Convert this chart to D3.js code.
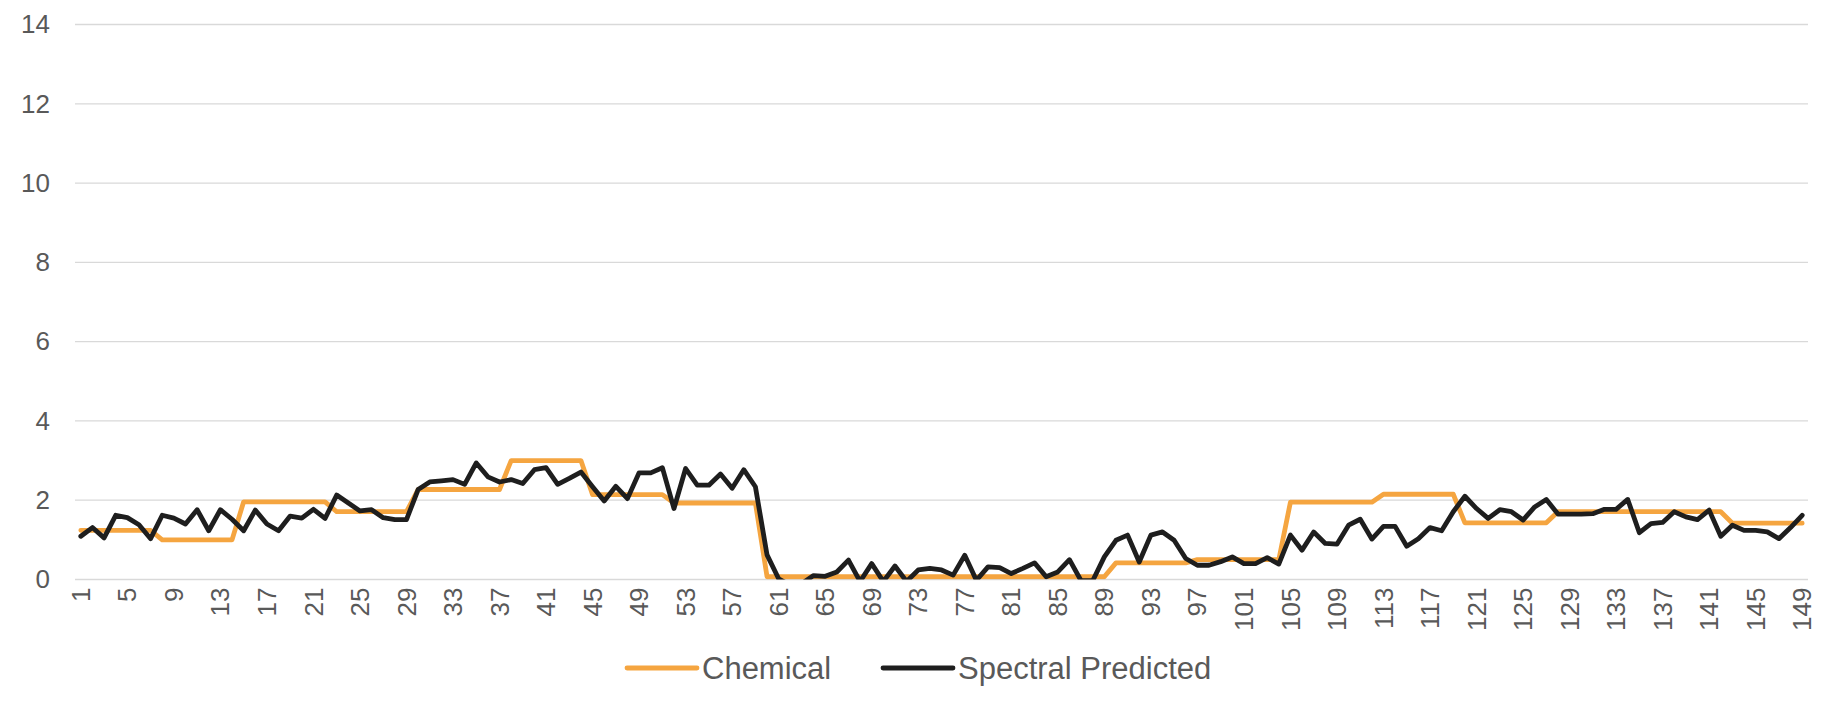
<!DOCTYPE html>
<html>
<head>
<meta charset="utf-8">
<script src="https://cdn.jsdelivr.net/npm/d3@7/dist/d3.min.js"></script>
<style>
  html, body { margin: 0; padding: 0; background: #ffffff; }
  svg { display: block; }
  text { font-family: "Liberation Sans", Arial, sans-serif; fill: #595959; }
</style>
</head>
<body>
<svg id="chart" width="1822" height="718"></svg>
<script>
// ---- data ----
const categories = d3.range(1, 150);
const chemical = [
  1.24,1.24,1.24,1.24,1.24,1.24,1.24,
  1.0,1.0,1.0,1.0,1.0,1.0,1.0,
  1.96,1.96,1.96,1.96,1.96,1.96,1.96,1.96,
  1.71,1.71,1.71,1.71,1.71,1.71,1.71,
  2.27,2.27,2.27,2.27,2.27,2.27,2.27,2.27,
  3.0,3.0,3.0,3.0,3.0,3.0,3.0,
  2.14,2.14,2.14,2.14,2.14,2.14,2.14,
  1.93,1.93,1.93,1.93,1.93,1.93,1.93,1.93,
  0.07,0.07,0.07,0.07,0.07,0.07,0.07,0.07,0.07,0.07,
  0.07,0.07,0.07,0.07,0.07,0.07,0.07,0.07,0.07,0.07,
  0.07,0.07,0.07,0.07,0.07,0.07,0.07,0.07,0.07,0.07,
  0.42,0.42,0.42,0.42,0.42,0.42,0.42,
  0.5,0.5,0.5,0.5,0.5,0.5,0.5,0.5,
  1.95,1.95,1.95,1.95,1.95,1.95,1.95,1.95,
  2.15,2.15,2.15,2.15,2.15,2.15,2.15,
  1.43,1.43,1.43,1.43,1.43,1.43,1.43,1.43,
  1.71,1.71,1.71,1.71,1.71,1.71,1.71,1.71,1.71,1.71,1.71,1.71,1.71,1.71,1.71,
  1.42,1.42,1.42,1.42,1.42,1.42,1.42
];
const spectral = [
  1.09,1.31,1.05,1.62,1.56,1.38,1.03,1.62,1.55,1.40,
  1.76,1.23,1.76,1.52,1.23,1.75,1.40,1.23,1.60,1.55,
  1.77,1.54,2.13,1.93,1.73,1.76,1.56,1.51,1.51,2.27,
  2.46,2.49,2.52,2.40,2.94,2.59,2.46,2.52,2.42,2.77,
  2.82,2.40,2.55,2.71,2.34,1.98,2.35,2.04,2.69,2.69,
  2.82,1.79,2.80,2.38,2.38,2.66,2.30,2.77,2.34,0.62,
  0.02,-0.15,-0.10,0.10,0.08,0.19,0.49,-0.05,0.40,-0.05,
  0.34,-0.05,0.24,0.28,0.24,0.11,0.61,-0.02,0.32,0.30,
  0.15,0.28,0.42,0.07,0.19,0.50,-0.03,-0.03,0.57,0.99,
  1.12,0.44,1.12,1.20,0.99,0.53,0.36,0.36,0.45,0.57,
  0.40,0.40,0.55,0.39,1.12,0.74,1.20,0.91,0.89,1.37,
  1.52,1.02,1.34,1.34,0.84,1.03,1.31,1.23,1.71,2.10,
  1.79,1.54,1.76,1.71,1.50,1.83,2.02,1.65,1.65,1.65,
  1.66,1.77,1.77,2.02,1.18,1.41,1.44,1.71,1.58,1.51,
  1.75,1.09,1.37,1.24,1.24,1.20,1.03,1.31,1.62
];
const yTicks = [0, 2, 4, 6, 8, 10, 12, 14];
const xTickLabels = categories.filter(c => (c - 1) % 4 === 0);
const seriesNames = ["Chemical", "Spectral Predicted"];
const seriesColors = ["#F5A540", "#1E1E1E"];

// ---- layout ----
const svg = d3.select("#chart");
const plotLeft = 75, plotRight = 1808, plotTop = 24.5, plotBottom = 579.5;

const x = d3.scaleBand().domain(categories).range([plotLeft, plotRight]).padding(0);
const y = d3.scaleLinear().domain([0, 14]).range([plotBottom, plotTop]);
const cx = c => x(c) + x.bandwidth() / 2;

// gridlines
svg.append("g")
  .selectAll("line")
  .data(yTicks)
  .join("line")
  .attr("x1", plotLeft).attr("x2", plotRight)
  .attr("y1", d => y(d)).attr("y2", d => y(d))
  .attr("stroke", "#d9d9d9").attr("stroke-width", 1.3);

// y axis labels
const yAxis = d3.axisLeft(y).tickValues(yTicks).tickSize(0).tickPadding(0);
const gy = svg.append("g").attr("transform", `translate(${plotLeft - 25},0)`).call(yAxis);
gy.select(".domain").remove();
gy.selectAll("text").style("font-size", "26px").attr("fill", "#595959")
  .attr("font-family", "Liberation Sans, Arial, sans-serif");

// x axis labels
const xAxis = d3.axisBottom(x).tickValues(xTickLabels).tickSize(0).tickPadding(0);
const gx = svg.append("g").attr("transform", `translate(0,${plotBottom})`).call(xAxis);
gx.select(".domain").remove();
gx.selectAll("text")
  .style("font-size", "26px").attr("fill", "#595959")
  .attr("font-family", "Liberation Sans, Arial, sans-serif")
  .attr("text-anchor", "end")
  .attr("dy", "0.35em")
  .attr("transform", "translate(0,8) rotate(-90)")
  .attr("x", 0).attr("y", 0);

// clip
svg.append("clipPath").attr("id", "plotclip")
  .append("rect").attr("x", plotLeft - 10).attr("y", plotTop - 10)
  .attr("width", plotRight - plotLeft + 20).attr("height", plotBottom - plotTop + 10);

const line = d3.line().x(d => cx(d.c)).y(d => y(d.v));
const seriesData = [chemical, spectral].map(arr => categories.map((c, i) => ({ c, v: arr[i] })));

svg.append("g").attr("clip-path", "url(#plotclip)")
  .selectAll("path")
  .data(seriesData)
  .join("path")
  .attr("d", line)
  .attr("fill", "none")
  .attr("stroke", (d, i) => seriesColors[i])
  .attr("stroke-width", 4.8)
  .attr("stroke-linejoin", "round")
  .attr("stroke-linecap", "round");

// legend
const legendY = 668;
const legendItems = [
  { name: seriesNames[0], color: seriesColors[0], x0: 627 },
  { name: seriesNames[1], color: seriesColors[1], x0: 883 }
];
const lg = svg.append("g");
legendItems.forEach(it => {
  lg.append("line").attr("x1", it.x0).attr("x2", it.x0 + 70)
    .attr("y1", legendY).attr("y2", legendY)
    .attr("stroke", it.color).attr("stroke-width", 4.8).attr("stroke-linecap", "round");
  lg.append("text").attr("x", it.x0 + 75).attr("y", legendY).attr("dy", "0.35em")
    .style("font-size", "31px").text(it.name);
});
</script>
</body>
</html>
